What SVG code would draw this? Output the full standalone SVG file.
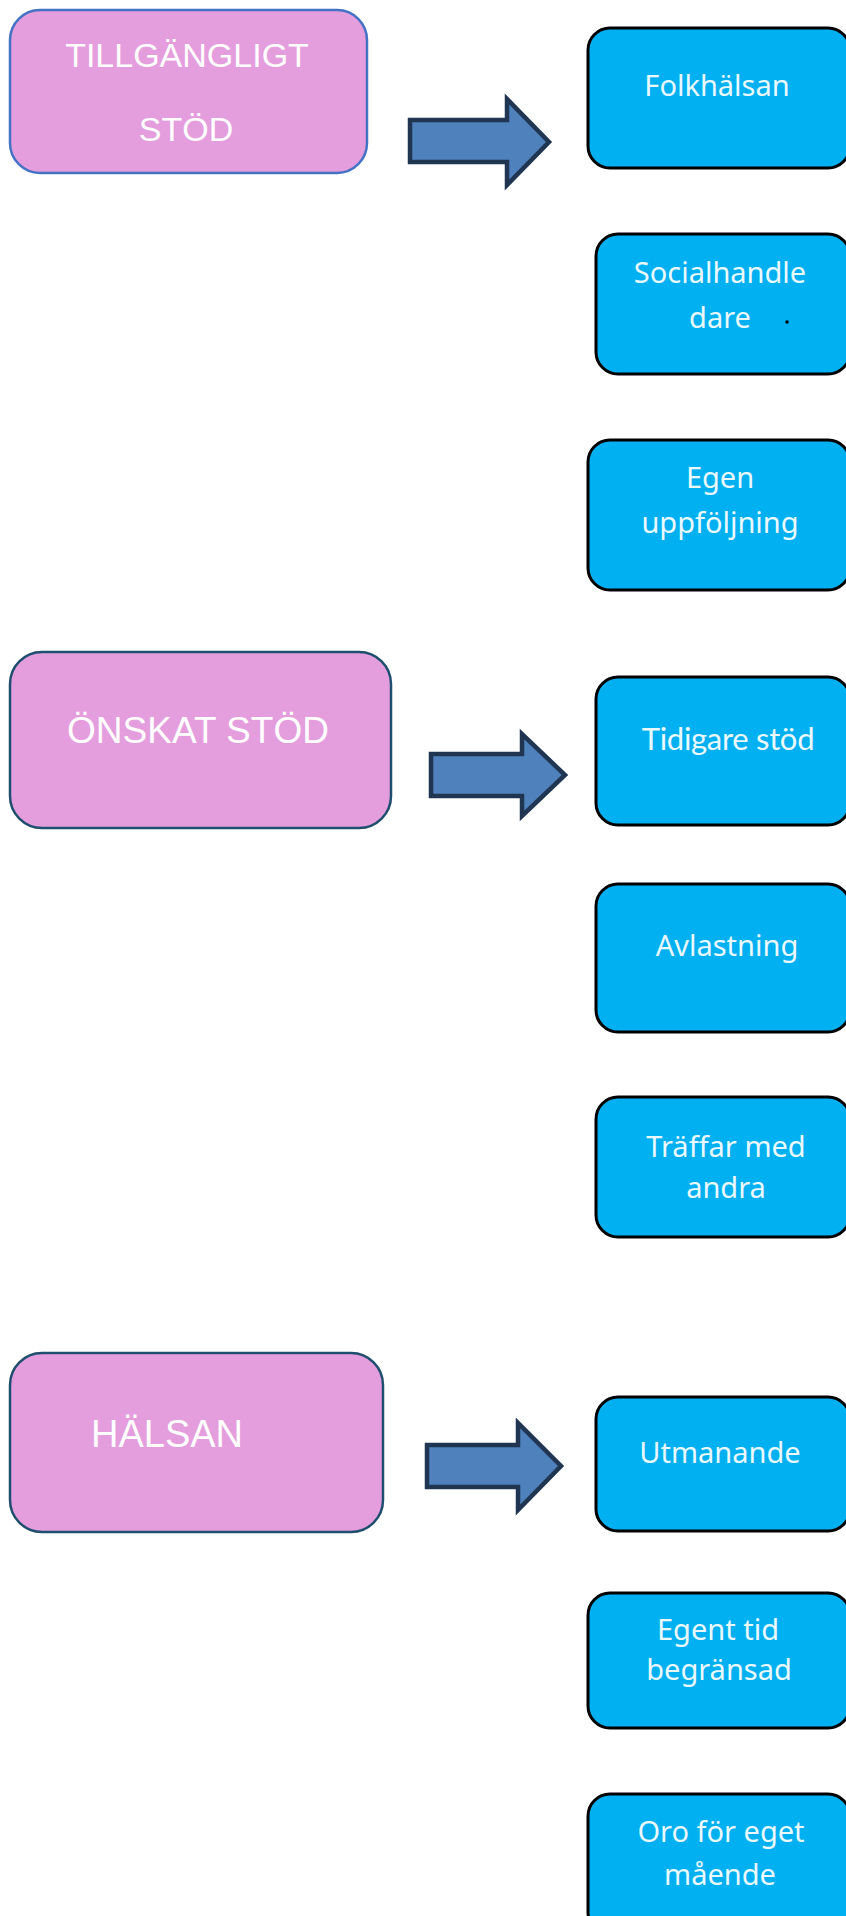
<svg xmlns="http://www.w3.org/2000/svg" width="846" height="1916" viewBox="0 0 846 1916">
<style>
.pink{fill:#E49EDD;stroke:#1F4E6E;stroke-width:2.5}
.blue{fill:#00B0F0;stroke:#000;stroke-width:3}
.ph{fill:#FFFFFF;font-family:"Liberation Sans",Arial,sans-serif;text-anchor:middle}
.bt{fill:#EAF8FF;font-family:"Noto Sans","Open Sans",sans-serif;font-size:29px;text-anchor:middle}
.ct{fill:#EAF8FF;font-family:Lato,"Noto Sans",sans-serif;font-size:31px;text-anchor:middle}
.arrow{fill:#4F81BD;stroke:#1F3552;stroke-width:4.5;stroke-linejoin:miter}
</style>
<rect width="846" height="1916" fill="#FFFFFF"/>

<g id="tillgangligt-stod">
<rect x="10" y="10" width="357" height="163" rx="30" fill="#E49EDD" stroke="#4472C4" stroke-width="2.5"/>
<text class="ph" x="187" y="67" font-size="34">TILLGÄNGLIGT</text>
<text class="ph" x="186" y="141" font-size="34">STÖD</text>
</g>

<g id="folkhalsan">
<rect class="blue" x="588" y="28" width="262" height="140" rx="22"/>
<text class="bt" x="717" y="96" font-size="30">Folkhälsan</text>
</g>

<g id="socialhandledare">
<rect class="blue" x="596" y="234" width="254" height="140" rx="22"/>
<text class="bt" x="720" y="283">Socialhandle</text>
<text class="bt" x="720" y="328">dare</text>
<circle cx="787" cy="322" r="1.8" fill="#000"/>
</g>

<g id="egen-uppfoljning">
<rect class="blue" x="588" y="440" width="262" height="150" rx="22"/>
<text class="bt" x="720" y="488">Egen</text>
<text class="bt" x="720" y="533">uppföljning</text>
</g>

<g id="onskat-stod">
<rect class="pink" x="10" y="652" width="381" height="176" rx="32"/>
<text class="ph" x="198" y="743" font-size="37">ÖNSKAT STÖD</text>
</g>

<g id="tidigare-stod">
<rect class="blue" x="596" y="677" width="254" height="148" rx="22"/>
<text class="ct" x="728" y="750" letter-spacing="-0.3">Tidigare stöd</text>
</g>

<g id="avlastning">
<rect class="blue" x="596" y="884" width="254" height="148" rx="22"/>
<text class="bt" x="727" y="956">Avlastning</text>
</g>

<g id="traffar-med-andra">
<rect class="blue" x="596" y="1097" width="254" height="140" rx="22"/>
<text class="bt" x="726" y="1157">Träffar med</text>
<text class="bt" x="726" y="1198">andra</text>
</g>

<g id="halsan">
<rect class="pink" x="10" y="1353" width="373" height="179" rx="32"/>
<text class="ph" x="167" y="1447" font-size="38">HÄLSAN</text>
</g>

<g id="utmanande">
<rect class="blue" x="596" y="1397" width="254" height="134" rx="22"/>
<text class="bt" x="720" y="1463" font-size="28">Utmanande</text>
</g>

<g id="egent-tid-begransad">
<rect class="blue" x="588" y="1593" width="262" height="135" rx="22"/>
<text class="bt" x="718" y="1640">Egent tid</text>
<text class="bt" x="719" y="1680">begränsad</text>
</g>

<g id="oro-for-eget-maende">
<rect class="blue" x="588" y="1794" width="262" height="140" rx="22"/>
<text class="bt" x="721" y="1842">Oro för eget</text>
<text class="bt" x="720" y="1885">mående</text>
</g>

<g id="connectors">
<polygon class="arrow" points="410,120 507,120 507,99 549,142 507,185 507,162 410,162"/>
<polygon class="arrow" points="431,754 522,754 522,734 565,775 522,816 522,796 431,796"/>
<polygon class="arrow" points="427,1445 518,1445 518,1423 561,1466 518,1510 518,1487 427,1487"/>
</g>
</svg>
